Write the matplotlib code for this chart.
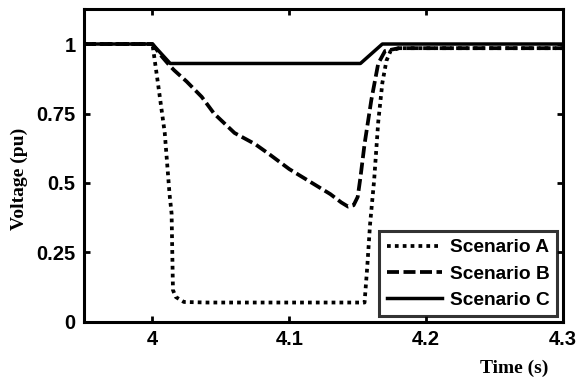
import numpy as np
import matplotlib.pyplot as plt

# Scenario A
tA = [3.95, 4.0, 4.004, 4.009, 4.0125, 4.014, 4.015, 4.017, 4.023, 4.04, 4.1, 4.155,
      4.157, 4.159, 4.162, 4.165, 4.168, 4.171, 4.174, 4.18, 4.3]
vA = [1.0, 1.0, 0.86, 0.68, 0.46, 0.39, 0.115, 0.09, 0.072, 0.07, 0.07, 0.07,
      0.2, 0.35, 0.51, 0.72, 0.86, 0.94, 0.975, 0.985, 0.985]

# Scenario B
tB = [3.95, 4.0, 4.006, 4.013, 4.016, 4.025, 4.036, 4.045, 4.06, 4.075, 4.085, 4.1, 4.11,
      4.12, 4.13, 4.138, 4.143, 4.147, 4.15, 4.152, 4.155, 4.16, 4.165, 4.17, 4.18, 4.3]
vB = [1.0, 1.0, 0.96, 0.92, 0.905, 0.865, 0.81, 0.75, 0.68, 0.64, 0.605, 0.55, 0.52,
      0.49, 0.46, 0.43, 0.415, 0.42, 0.45, 0.52, 0.64, 0.8, 0.93, 0.975, 0.985, 0.985]

# Scenario C
tC = [3.95, 4.0, 4.013, 4.152, 4.16, 4.168, 4.3]
vC = [1.0, 1.0, 0.93, 0.93, 0.965, 1.0, 1.0]

xticks = [4, 4.1, 4.2, 4.3]
xticklabels = ['4', '4.1', '4.2', '4.3']
yticks = [0, 0.25, 0.5, 0.75, 1]
yticklabels = ['0', '0.25', '0.5', '0.75', '1']

plt.rcParams['font.family'] = ['Liberation Sans', 'DejaVu Sans']
plt.rcParams['font.weight'] = 'bold'

fig = plt.figure(figsize=(5.77, 3.81), dpi=100)
ax = fig.add_axes([0.1456, 0.1549, 0.8301, 0.8215])

ax.plot(tA, vA, color='black', linestyle=(0, (1, 1.1)), lw=2.7, label='Scenario A')
ax.plot(tB, vB, color='black', linestyle=(0, (3.2, 1.2)), lw=2.7, label='Scenario B')
ax.plot(tC, vC, color='black', linestyle='-', lw=2.5, label='Scenario C')

ax.set_xlim(3.95, 4.3)
ax.set_ylim(0, 1.126)
ax.set_xticks(xticks)
ax.set_xticklabels(xticklabels)
ax.set_yticks(yticks)
ax.set_yticklabels(yticklabels)
ax.tick_params(direction='in', length=4, width=2, top=True, right=True,
               labelsize=14.5, pad=6)
for lbl in ax.get_xticklabels() + ax.get_yticklabels():
    lbl.set_fontweight('bold')
for s in ax.spines.values():
    s.set_linewidth(2.2)

fig.text(0.033, 0.53, 'Voltage (pu)', family='Liberation Serif', fontweight='bold',
         fontsize=14, rotation=90, ha='center', va='center')
fig.text(0.891, 0.034, 'Time (s)', family='Liberation Serif', fontweight='bold',
         fontsize=14, ha='center', va='center')

leg = ax.legend(loc='lower right', fontsize=13.8, frameon=True, fancybox=False,
                edgecolor='black', borderpad=0.4, handlelength=2.9, labelspacing=0.45,
                borderaxespad=0.3, handletextpad=0.4)
leg.get_frame().set_linewidth(2.2)
for t in leg.get_texts():
    t.set_fontweight('bold')

plt.savefig('out.png', dpi=100)
